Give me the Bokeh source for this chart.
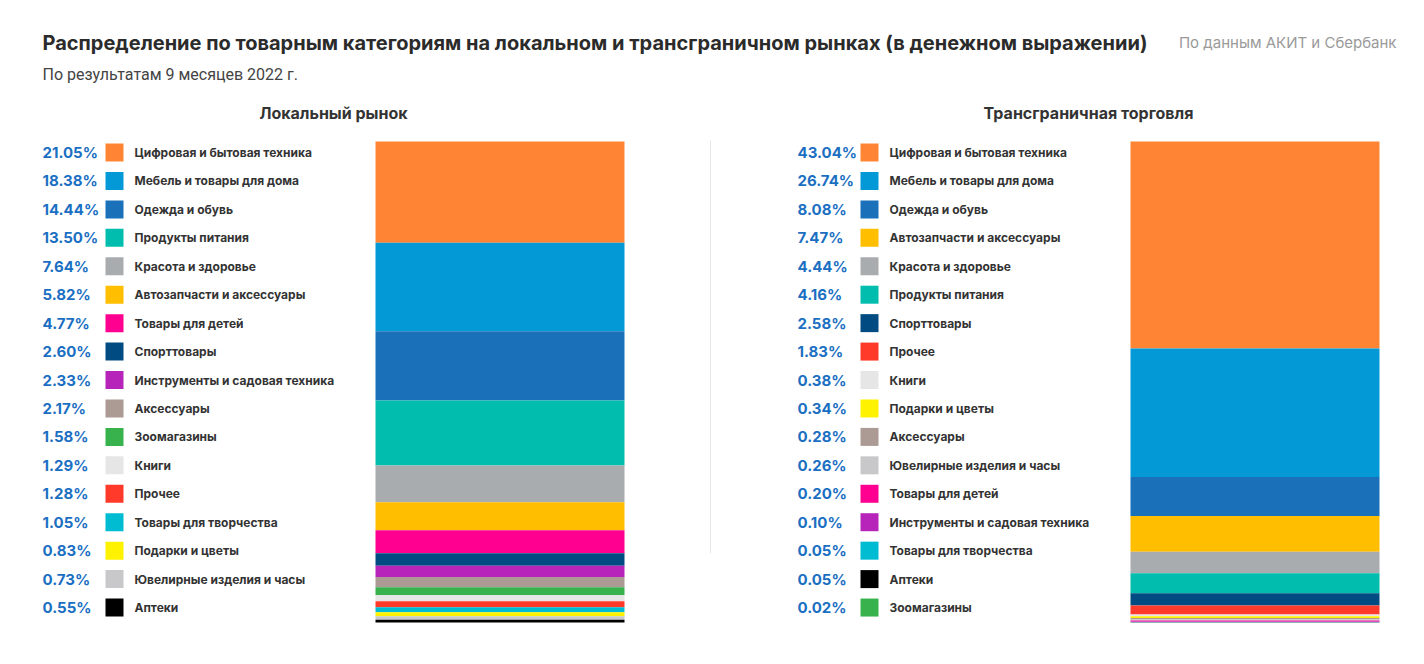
from bokeh.plotting import figure
from bokeh.models import Range1d, ColumnDataSource
from bokeh.core.properties import value
from bokeh.embed import file_html
from bokeh.resources import INLINE

# ---------------- data ----------------
title = "Распределение по товарным категориям на локальном и трансграничном рынках (в денежном выражении)"
subtitle = "По результатам 9 месяцев 2022 г."
source_note = "По данным АКИТ и Сбербанк"

local_title = "Локальный рынок"
local_categories = [
    "Цифровая и бытовая техника", "Мебель и товары для дома", "Одежда и обувь",
    "Продукты питания", "Красота и здоровье", "Автозапчасти и аксессуары",
    "Товары для детей", "Спорттовары", "Инструменты и садовая техника",
    "Аксессуары", "Зоомагазины", "Книги", "Прочее", "Товары для творчества",
    "Подарки и цветы", "Ювелирные изделия и часы", "Аптеки",
]
local_values = [21.05, 18.38, 14.44, 13.50, 7.64, 5.82, 4.77, 2.60, 2.33,
                2.17, 1.58, 1.29, 1.28, 1.05, 0.83, 0.73, 0.55]

cross_title = "Трансграничная торговля"
cross_categories = [
    "Цифровая и бытовая техника", "Мебель и товары для дома", "Одежда и обувь",
    "Автозапчасти и аксессуары", "Красота и здоровье", "Продукты питания",
    "Спорттовары", "Прочее", "Книги", "Подарки и цветы", "Аксессуары",
    "Ювелирные изделия и часы", "Товары для детей", "Инструменты и садовая техника",
    "Товары для творчества", "Аптеки", "Зоомагазины",
]
cross_values = [43.04, 26.74, 8.08, 7.47, 4.44, 4.16, 2.58, 1.83, 0.38,
                0.34, 0.28, 0.26, 0.20, 0.10, 0.05, 0.05, 0.02]

# ---------------- styles ----------------
COLORS = {
    "Цифровая и бытовая техника": "#FF8535",
    "Мебель и товары для дома": "#0399D7",
    "Одежда и обувь": "#1A71BA",
    "Продукты питания": "#00BDAE",
    "Красота и здоровье": "#A9ACAF",
    "Автозапчасти и аксессуары": "#FFBE00",
    "Товары для детей": "#FF0090",
    "Спорттовары": "#004B82",
    "Инструменты и садовая техника": "#B624B9",
    "Аксессуары": "#AC9A94",
    "Зоомагазины": "#37B24C",
    "Книги": "#E6E6E6",
    "Прочее": "#FF3A2A",
    "Товары для творчества": "#00BCD2",
    "Подарки и цветы": "#FFF200",
    "Ювелирные изделия и часы": "#C8C8CA",
    "Аптеки": "#000000",
}
PCT_COLOR = "#1B6FC2"
TEXT_DARK = "#333333"
FONT = "Inter"

W, H = 1408, 648
p = figure(width=W, height=H, output_backend="svg", toolbar_location=None,
           x_range=Range1d(0, W), y_range=Range1d(H, 0), min_border=0)
p.axis.visible = False
p.grid.visible = False
p.outline_line_color = None
p.background_fill_color = "white"
p.border_fill_color = "white"

# percent range for the stacked bars: 100% at y=141, 0% at y=622 (frame px)
bar_top_px, bar_bot_px = 141.0, 622.0
per_px = 100.0 / (bar_bot_px - bar_top_px)
p.extra_y_ranges = {"pct": Range1d(start=-(H - bar_bot_px) * per_px,
                                   end=100.0 + bar_top_px * per_px)}

# headline texts
p.text(x=[42], y=[42], text=[title], text_font=value(FONT), text_font_style="bold",
       text_font_size="20px", text_color="#2b2b2b", text_baseline="middle")
p.text(x=[42], y=[74], text=[subtitle], text_font=value("Roboto"),
       text_font_size="16px", text_color="#444444", text_baseline="middle")
p.text(x=[1396], y=[42], text=[source_note], text_font=value(FONT),
       text_font_size="15px", text_color="#9a9a9a", text_baseline="middle", text_align="right")

# divider
p.segment(x0=[710], y0=[140], x1=[710], y1=[553], line_color="#e6e6e6", line_width=1)


def panel(cats, vals, heading, x_pct, x_sw, x_lab, bar_left, bar_right):
    cx = (x_pct + bar_right) / 2
    p.text(x=[cx], y=[112], text=[heading], text_font=value(FONT), text_font_style="bold",
           text_font_size="16px", text_color=TEXT_DARK, text_baseline="middle", text_align="center")
    n = len(cats)
    ys = [152 + i * 28.44 for i in range(n)]
    cols = [COLORS[c] for c in cats]
    labels = ["%.2f%%" % v for v in vals]
    src = ColumnDataSource(dict(y=ys, cat=cats, lab=labels, color=cols,
                                xp=[x_pct] * n, xs=[x_sw] * n, xl=[x_lab] * n))
    p.text(x="xp", y="y", text="lab", source=src, text_font=value(FONT), text_font_style="bold",
           text_font_size="15px", text_color=PCT_COLOR, text_baseline="middle")
    p.rect(x="xs", y="y", width=18, height=18, source=src, fill_color="color", line_color=None)
    p.text(x="xl", y="y", text="cat", source=src, text_font=value(FONT), text_font_style="bold",
           text_font_size="12px", text_color=TEXT_DARK, text_baseline="middle")
    total = sum(vals)
    tops, bots = [], []
    acc = 0.0
    for v in vals:
        tops.append(100.0 - acc / total * 100.0)
        acc += v
        bots.append(100.0 - acc / total * 100.0)
    bsrc = ColumnDataSource(dict(top=tops, bottom=bots, color=cols,
                                 left=[bar_left] * n, right=[bar_right] * n))
    p.quad(left="left", right="right", top="top", bottom="bottom", source=bsrc,
           fill_color="color", line_color=None, y_range_name="pct")


panel(local_categories, local_values, local_title, 42, 114, 134, 375, 624)
panel(cross_categories, cross_values, cross_title, 797, 869, 889, 1130, 1379)

open("out.html", "w").write(file_html(p, INLINE))
